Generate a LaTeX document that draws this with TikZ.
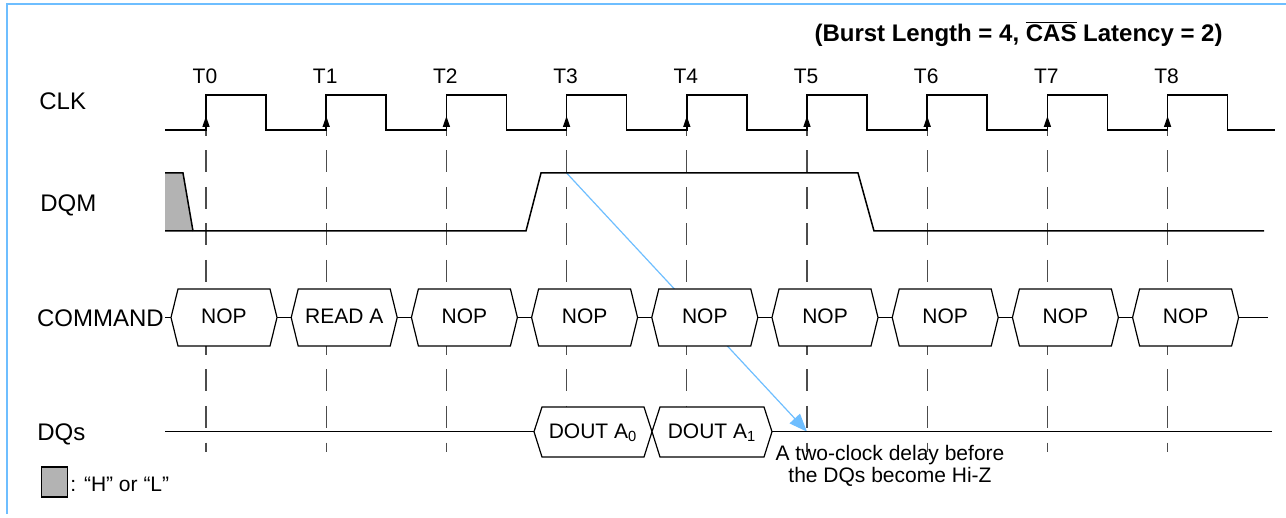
\documentclass[tikz,border=0pt]{standalone}
\usepackage{fontspec}
\setmainfont{Liberation Sans}
\usetikzlibrary{arrows.meta}
\definecolor{skyline}{RGB}{110,190,255}
\definecolor{hlgray}{RGB}{179,179,179}
\tikzset{
  wave/.style={line width=0.75pt,black},
  busbox/.style={line width=0.6pt,draw=black,fill=white},
  gridline/.style={line width=0.6pt,black!70,dash pattern=on 11pt off 7.25pt,dash phase=8pt},
  edgetip/.style={line width=0.75pt,-{Triangle[length=5.5pt,width=3.5pt]}},
  delay/.style={skyline,line width=0.6pt,-{Triangle[length=9pt,width=7pt]}},
  siglabel/.style={inner sep=0pt,anchor=base west,font=\fontsize{12}{14}\selectfont},
  boxtext/.style={inner sep=0pt,anchor=base,font=\fontsize{10.5}{10.85}\selectfont},
}

\begin{document}
\begin{tikzpicture}[x=0.5pt,y=-0.5pt]
	\useasboundingbox (0,0) rectangle (1286,518);
	\draw[skyline,line width=1pt] (7,514) -- (7,4) -- (1286,4);
	\node[inner sep=0pt,anchor=base east,font=\fontsize{12}{14}\selectfont\bfseries] (title) at (1223,41.7) {(Burst Length = 4, $\overline{\mbox{CAS}}$ Latency = 2)};
	% clock edges
	\foreach \k in {0,...,8} {
		\draw[gridline] ({206+120.2*\k},130) -- ++(0,322);
		\node[boxtext] (t\k) at ({205+120.2*\k},83.3) {T\k};
	}
	\coordinate (dqmhigh) at (566.6,173);
	\coordinate (hiz) at (807,431.7);
	\draw[delay] (dqmhigh) -- (hiz);
	\draw[wave] (165,130) \foreach \k in {0,...,8} { -- ({206+120.2*\k},130) -- ++(0,-35) -- ++(60,0) -- ++(0,35) } -- (1275,130);
	\foreach \k in {0,...,8}
		\draw[edgetip] ({206+120.2*\k},130) -- ++(0,-14);
	% DQM
	\fill[hlgray] (165,173) -- (183,173) -- (193,231) -- (165,231) -- cycle;
	\draw[wave] (165,173) -- (183,173) -- (193,231);
	\draw[wave] (165,231) -- (526,231) -- (541,173) -- (858,173) -- (874,231) -- (1264,231);
	% COMMAND
	\draw[wave,line width=0.6pt] (165,317.5) -- (1268,317.5);
	\foreach \k/\cmd in {0/NOP,1/READ A,2/NOP,3/NOP,4/NOP,5/NOP,6/NOP,7/NOP,8/NOP} {
		\pgfmathsetmacro\xl{171+120.2*\k}
		\draw[busbox] (\xl,317.5) -- ++(7,-28.5) -- ++(92,0) -- ++(7,28.5) -- ++(-7,28.5) -- ++(-92,0) -- cycle;
		\node[boxtext] (cmd\k) at (\xl+53,323.3) {\cmd};
	}
	% DQs
	\draw[wave,line width=0.6pt] (165,431.7) -- (1272,431.7);
	\draw[busbox] (534,431.7) -- (542,407) -- (644,407) -- (652,431.7) -- (644,457) -- (542,457) -- cycle;
	\draw[busbox] (652,431.7) -- (660,407) -- (764,407) -- (772,431.7) -- (764,457) -- (660,457) -- cycle;
	\node[boxtext] (douta0) at (593,438.3) {DOUT A\textsubscript{0}};
	\node[boxtext] (douta1) at (712,438.3) {DOUT A\textsubscript{1}};
	\node[boxtext,anchor=north,align=center] (hiznote) at (890,444.7) {A two-clock delay before\\the DQs become Hi-Z};
	% signal names
	\node[siglabel] (clk) at (39,110) {CLK};
	\node[siglabel] (dqm) at (40,211.7) {DQM};
	\node[siglabel] (command) at (36.7,326.7) {COMMAND};
	\node[siglabel] (dqs) at (37,440) {DQs};
	% key
	\draw[fill=hlgray,line width=0.6pt] (41.7,467) rectangle (67.7,497);
	\node[boxtext,anchor=base west] (hlkey) at (70,491.7) {: “H” or “L”};
\end{tikzpicture}
\end{document}
